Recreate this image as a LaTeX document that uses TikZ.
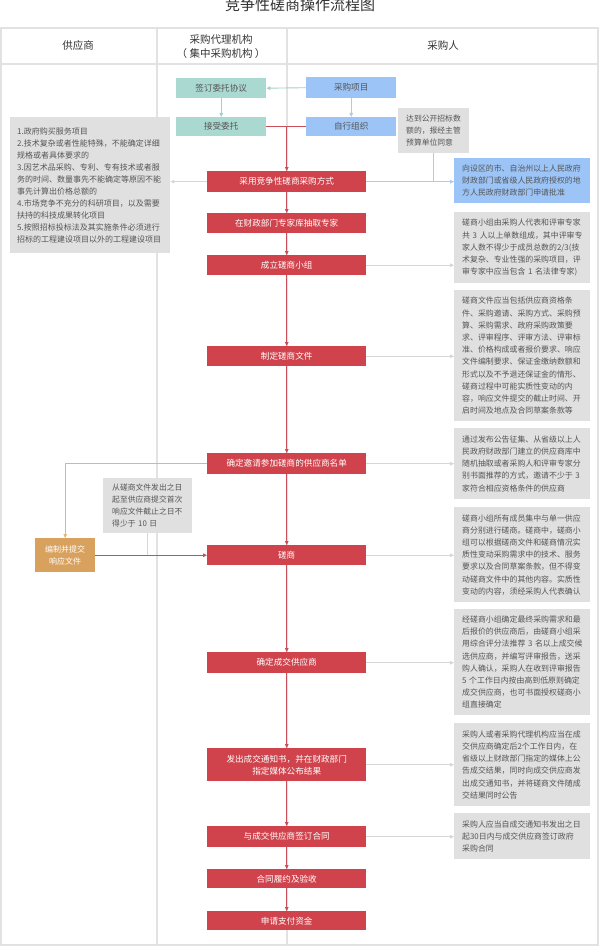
\documentclass[tikz,border=0pt]{standalone}
\usepackage{fontspec}
\setmainfont{Noto Sans CJK SC}
\usetikzlibrary{arrows.meta}
\definecolor{redc}{HTML}{D0434C}
\definecolor{redl}{HTML}{C9505A}
\definecolor{tealc}{HTML}{AAD9D2}
\definecolor{tealarr}{HTML}{9FD2CA}
\definecolor{bluec}{HTML}{9CC4F6}
\definecolor{bluel}{HTML}{AFCBEB}
\definecolor{grayc}{HTML}{E0E0E0}
\definecolor{grayl}{HTML}{D6D6D6}
\definecolor{framec}{HTML}{E2E2E2}
\definecolor{orangec}{HTML}{D8A25E}
\definecolor{orangel}{HTML}{E2B57C}
\definecolor{txtc}{HTML}{555555}
\definecolor{headc}{HTML}{333333}
\begin{document}
\begin{tikzpicture}[x=1pt,y=-1pt,
  tip/.style={-{Triangle[length=4pt,width=3.6pt]}},
  redbox/.style={fill=redc, text=white, minimum width=159pt, inner sep=0pt, anchor=north west, align=center, font=\fontsize{8.6}{12}\selectfont},
  tealbox/.style={fill=tealc, text=txtc, minimum width=90pt, inner sep=0pt, anchor=north west, font=\fontsize{8.6}{12}\selectfont},
  bluebox/.style={fill=bluec, text=txtc, minimum width=90pt, inner sep=0pt, anchor=north west, font=\fontsize{8.6}{12}\selectfont},
  notebox/.style={fill=grayc, text=txtc, text width=120pt, inner xsep=8pt, inner ysep=0pt, anchor=north west, align=left, font=\fontsize{7.9}{12.2}\selectfont},
  bluenote/.style={notebox, fill=bluec},
  redline/.style={draw=redl, line width=0.9pt, tip},
  grayline/.style={draw=grayl, line width=0.9pt, tip},
  blueline/.style={draw=bluel, line width=0.9pt, tip},
  tealline/.style={draw=tealarr, line width=0.9pt, tip},
  orangeline/.style={draw=orangel, line width=0.9pt, tip},
  frameline/.style={draw=framec, line width=1.2pt},
  headtext/.style={text=headc, font=\fontsize{10.5}{14}\selectfont, align=center}
]
\useasboundingbox (0,0) rectangle (599,947);
% title
\node[text=headc, font=\fontsize{15}{18}\selectfont] (title) at (300,5) {竞争性磋商操作流程图};
% frame
\draw[frameline] (1,28) rectangle (598,945);
\draw[frameline] (1,64) -- (598,64);
\draw[frameline] (157,28) -- (157,945);
\draw[frameline] (287,28) -- (287,945);
\node[headtext] (h1) at (78,46) {供应商};
\node[headtext] (h2) at (221,46.5) {采购代理机构\\（~集中采购机构~）};
\node[headtext] (h3) at (443,46) {采购人};

% top boxes
\node[tealbox, minimum height=20pt] (sign) at (176,78) {签订委托协议};
\node[tealbox, minimum height=19pt] (accept) at (176,117) {接受委托};
\node[bluebox, minimum height=21pt] (proj) at (306,77) {采购项目};
\node[bluebox, minimum height=19pt] (self) at (306,117) {自行组织};

\node[notebox, text width=55pt, font=\fontsize{7.8}{12}\selectfont, minimum height=45pt] (reach) at (398,108) {达到公开招标数\\额的，报经主管\\预算单位同意};

% left note
\node[notebox, text width=146pt, inner xsep=7pt, font=\fontsize{8}{12}\selectfont, minimum height=136pt] (cases) at (10,117) {1.政府购买服务项目\\2.技术复杂或者性能特殊，不能确定详细\\规格或者具体要求的\\3.因艺术品采购、专利、专有技术或者服\\务的时间、数量事先不能确定等原因不能\\事先计算出价格总额的\\4.市场竞争不充分的科研项目，以及需要\\扶持的科技成果转化项目\\5.按照招标投标法及其实施条件必须进行\\招标的工程建设项目以外的工程建设项目};

% red steps
\node[redbox, minimum height=21pt] (r1) at (207,171) {采用竞争性磋商采购方式};
\node[redbox, minimum height=20pt] (r2) at (207,213) {在财政部门专家库抽取专家};
\node[redbox, minimum height=20pt] (r3) at (207,255) {成立磋商小组};
\node[redbox, minimum height=20pt] (r4) at (207,346) {制定磋商文件};
\node[redbox, minimum height=21pt] (r5) at (207,453) {确定邀请参加磋商的供应商名单};
\node[redbox, minimum height=20pt] (r6) at (207,545) {磋商};
\node[redbox, minimum height=21pt] (r7) at (207,652) {确定成交供应商};
\node[redbox, minimum height=33pt] (r8) at (207,748) {发出成交通知书，并在财政部门\\指定媒体公布结果};
\node[redbox, minimum height=21pt] (r9) at (207,826) {与成交供应商签订合同};
\node[redbox, minimum height=19pt] (r10) at (207,869) {合同履约及验收};
\node[redbox, minimum height=19pt] (r11) at (207,911) {申请支付资金};

% right notes
\node[bluenote, minimum height=45pt] (g1) at (454,158) {向设区的市、自治州以上人民政府\\财政部门或省级人民政府授权的地\\方人民政府财政部门申请批准};
\node[notebox, minimum height=71pt] (g2) at (454,212) {磋商小组由采购人代表和评审专家\\共~3~人以上单数组成，其中评审专\\家人数不得少于成员总数的2/3(技\\术复杂、专业性强的采购项目，评\\审专家中应当包含~1~名法律专家)};
\node[notebox, minimum height=131pt] (g3) at (454,290) {磋商文件应当包括供应商资格条\\件、采购邀请、采购方式、采购预\\算、采购需求、政府采购政策要\\求、评审程序、评审方法、评审标\\准、价格构成或者报价要求、响应\\文件编制要求、保证金缴纳数额和\\形式以及不予退还保证金的情形、\\磋商过程中可能实质性变动的内\\容，响应文件提交的截止时间、开\\启时间及地点及合同草案条款等};
\node[notebox, minimum height=71pt] (g4) at (454,428) {通过发布公告征集、从省级以上人\\民政府财政部门建立的供应商库中\\随机抽取或者采购人和评审专家分\\别书面推荐的方式，邀请不少于~3\\家符合相应资格条件的供应商};
\node[notebox, minimum height=95pt] (g5) at (454,507) {磋商小组所有成员集中与单一供应\\商分别进行磋商。磋商中，磋商小\\组可以根据磋商文件和磋商情况实\\质性变动采购需求中的技术、服务\\要求以及合同草案条款，但不得变\\动磋商文件中的其他内容。实质性\\变动的内容，须经采购人代表确认};
\node[notebox, minimum height=106pt] (g6) at (454,609) {经磋商小组确定最终采购需求和最\\后报价的供应商后，由磋商小组采\\用综合评分法推荐~3~名以上成交候\\选供应商，并编写评审报告，送采\\购人确认，采购人在收到评审报告\\5~个工作日内按由高到低原则确定\\成交供应商，也可书面授权磋商小\\组直接确定};
\node[notebox, minimum height=83pt] (g7) at (454,723) {采购人或者采购代理机构应当在成\\交供应商确定后2个工作日内，在\\省级以上财政部门指定的媒体上公\\告成交结果，同时向成交供应商发\\出成交通知书，并将磋商文件随成\\交结果同时公告};
\node[notebox, minimum height=46pt] (g8) at (454,813) {采购人应当自成交通知书发出之日\\起30日内与成交供应商签订政府\\采购合同};

% supplier side
\node[fill=orangec, text=white, minimum width=60pt, minimum height=34pt, inner sep=0pt, anchor=north west, align=center, font=\fontsize{8}{12}\selectfont] (resp) at (35,538) {编制并提交\\响应文件};
\node[notebox, text width=71pt, inner xsep=9pt, font=\fontsize{7.8}{12}\selectfont, minimum height=55pt] (days) at (103,478) {从磋商文件发出之日\\起至供应商提交首次\\响应文件截止之日不\\得少于~10~日};

% connectors top
\draw[tealline] (proj.west) -- (sign.east);
\draw[tealline] (sign.south) -- (accept.north);
\draw[blueline] (proj.south) -- (self.north);
\draw[redline, -] (accept.east) -- (self.west);
\coordinate (join) at (r1.north |- accept.east);
\draw[redline] (join) -- (r1.north);
\draw[blueline] (r1.east) -- (r1.east -| g1.west);
\draw[blueline, -] (reach.south) -- (reach.south |- r1.east);
\draw[grayline] (r1.west) -- (r1.west -| cases.east);

% main chain
\draw[redline] (r1.south) -- (r2.north);
\draw[redline] (r2.south) -- (r3.north);
\draw[redline] (r3.south) -- (r4.north);
\draw[redline] (r4.south) -- (r5.north);
\draw[redline] (r5.south) -- (r6.north);
\draw[redline] (r6.south) -- (r7.north);
\draw[redline] (r7.south) -- (r8.north);
\draw[redline] (r8.south) -- (r9.north);
\draw[redline] (r9.south) -- (r10.north);
\draw[redline] (r10.south) -- (r11.north);

% to notes
\draw[grayline] (r3.east) -- (r3.east -| g2.west);
\draw[grayline] (r4.east) -- (r4.east -| g3.west);
\draw[grayline] (r5.east) -- (r5.east -| g4.west);
\draw[grayline] (r6.east) -- (r6.east -| g5.west);
\draw[grayline] (r7.east) -- (r7.east -| g6.west);
\draw[grayline] (r8.east) -- (r8.east -| g7.west);
\draw[grayline] (r9.east) -- (r9.east -| g8.west);

% supplier flow
\draw[orangeline] (r5.west) -| (resp.north);
\draw[redline] (resp.east) -- (resp.east -| r6.west);
\draw[grayline, -] (days.south) -- (days.south |- resp.east);
\end{tikzpicture}
\end{document}
